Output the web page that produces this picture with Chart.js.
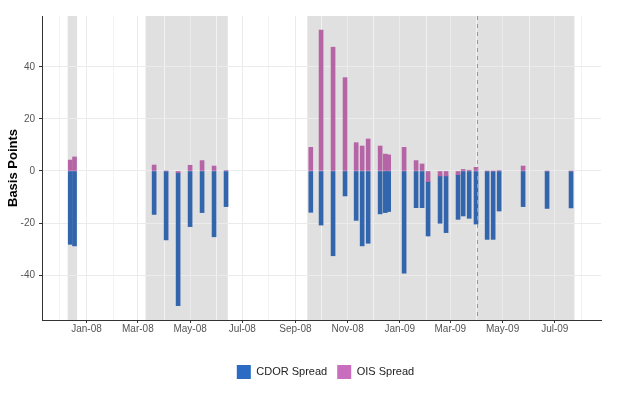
<!DOCTYPE html>
<html>
<head>
<meta charset="utf-8">
<script src="https://cdn.jsdelivr.net/npm/chart.js@4.4.1/dist/chart.umd.min.js"></script>
<style>
    html, body { margin: 0; padding: 0; background: #fff; }
    #wrap { width: 640px; height: 406px; }
</style>
</head>
<body>
<div id="wrap"><canvas id="spreadChart"></canvas></div>
<script>
// operation dates and spreads (basis points)
const dates = [
    "2007-12-13", "2007-12-18",
    "2008-03-20", "2008-04-03", "2008-04-17", "2008-05-01", "2008-05-15", "2008-05-29", "2008-06-12",
    "2008-09-19", "2008-10-01", "2008-10-15", "2008-10-29", "2008-11-11", "2008-11-18", "2008-11-25",
    "2008-12-09", "2008-12-15", "2008-12-19",
    "2009-01-06", "2009-01-20", "2009-01-27", "2009-02-03", "2009-02-17", "2009-02-24",
    "2009-03-10", "2009-03-16", "2009-03-23", "2009-03-31",
    "2009-04-13", "2009-04-20", "2009-04-27", "2009-05-25", "2009-06-22", "2009-07-20"
];
const cdorSpread = [
    -28.2, -28.8,
    -16.7, -26.5, -51.1, -21.4, -16.0, -25.3, -13.7,
    -15.9, -20.8, -32.6, -9.6, -19.0, -28.8, -27.8,
    -16.5, -16.0, -15.6,
    -39.3, -14.1, -14.1, -20.9, -18.2, -21.8,
    -17.2, -17.3, -18.2, -20.4,
    -26.3, -26.3, -15.4, -13.7, -14.4, -14.2
];
const oisSpread = [
    4.2, 5.4,
    2.3, 0, -0.7, 2.2, 4.0, 1.9, 0.2,
    9.1, 54.2, 47.6, 35.9, 10.9, 9.6, 12.3,
    9.6, 6.5, 6.2,
    9.1, 4.0, 2.7, -4.1, -1.9, -1.9,
    -1.4, 0.6, 0.3, 1.4,
    0, 0, 0.2, 1.9, 0, 0
];

// shaded periods and marker line
const shadeStarts = ["2007-12-10", "2008-03-10", "2008-09-15"];
const shadeEnds = ["2007-12-21", "2008-06-14", "2009-07-24"];
const markerDate = "2009-04-01";

const axisStart = "2007-11-10";
const axisEnd = "2009-08-24";
const yTicks = [-40, -20, 0, 20, 40];
const monthNames = ["Jan", "Feb", "Mar", "Apr", "May", "Jun", "Jul", "Aug", "Sep", "Oct", "Nov", "Dec"];

const legendColors = { "CDOR Spread": "#2b6bc3", "OIS Spread": "#c96ebf" };

function toTime(s) {
    return Date.parse(s);
}

function isLabelledMonth(value) {
    return new Date(value).getUTCMonth() % 2 === 0;
}

Chart.defaults.font.family = '"Liberation Sans", Arial, sans-serif';

const shadePlugin = {
    id: "shade",
    afterLayout(chart) {
        // legend in the original sits a little right of the canvas centre
        chart.legend.left += 25;
        chart.legend.right += 25;
    },
    beforeDraw(chart) {
        const { ctx, chartArea, scales } = chart;
        ctx.save();
        ctx.fillStyle = "#e0e0e0";
        shadeStarts.forEach((s, i) => {
            const x0 = scales.x.getPixelForValue(toTime(s));
            const x1 = scales.x.getPixelForValue(toTime(shadeEnds[i]));
            ctx.fillRect(x0, chartArea.top, x1 - x0, chartArea.bottom - chartArea.top);
        });
        ctx.restore();
    },
    afterDatasetsDraw(chart) {
        const { ctx, chartArea, scales } = chart;
        const x = Math.round(scales.x.getPixelForValue(toTime(markerDate))) + 0.5;
        ctx.save();
        ctx.strokeStyle = "#8c8ce6";
        ctx.lineWidth = 1;
        ctx.setLineDash([4, 4]);
        ctx.beginPath();
        ctx.moveTo(x, chartArea.top);
        ctx.lineTo(x, chartArea.bottom);
        ctx.stroke();
        ctx.restore();
    }
};

const ctx = document.getElementById("spreadChart").getContext("2d");

new Chart(ctx, {
    type: "bar",
    data: {
        datasets: [
            {
                label: "OIS Spread",
                data: dates.map((d, i) => ({ x: toTime(d), y: oisSpread[i] })),
                backgroundColor: "#b565a6",
                borderWidth: 0,
                barThickness: 4
            },
            {
                label: "CDOR Spread",
                data: dates.map((d, i) => ({ x: toTime(d), y: cdorSpread[i] })),
                backgroundColor: "#3365ad",
                borderWidth: 0,
                barThickness: 4
            }
        ]
    },
    options: {
        responsive: true,
        maintainAspectRatio: false,
        animation: false,
        layout: { padding: { left: 0, right: 39, top: 16, bottom: 17 } },
        plugins: {
            tooltip: { enabled: false },
            legend: {
                position: "bottom",
                labels: {
                    boxWidth: 14,
                    boxHeight: 14,
                    padding: 10,
                    color: "#222",
                    font: { size: 11 },
                    generateLabels(chart) {
                        const items = Chart.defaults.plugins.legend.labels.generateLabels(chart);
                        items.forEach((it) => {
                            it.fillStyle = legendColors[it.text];
                            it.strokeStyle = legendColors[it.text];
                            it.lineWidth = 0;
                        });
                        return items.reverse();
                    }
                }
            }
        },
        scales: {
            x: {
                type: "linear",
                stacked: true,
                offset: false,
                min: toTime(axisStart),
                max: toTime(axisEnd),
                afterBuildTicks(scale) {
                    const ticks = [];
                    const start = new Date(toTime(axisStart));
                    let y = start.getUTCFullYear();
                    let m = start.getUTCMonth() + 1;
                    while (Date.UTC(y, m, 1) <= toTime(axisEnd)) {
                        ticks.push({ value: Date.UTC(y, m, 1) });
                        m++;
                        if (m > 11) { m = 0; y++; }
                    }
                    scale.ticks = ticks;
                },
                afterFit(scale) {
                    scale.height = 35;
                },
                grid: {
                    offset: false,
                    color: (c) => (c.tick && isLabelledMonth(c.tick.value) ? "#ebebeb" : "#f2f2f2"),
                    tickColor: (c) => (c.tick && isLabelledMonth(c.tick.value) ? "#333" : "rgba(0,0,0,0)"),
                    tickLength: 3
                },
                border: { display: true, color: "#333", width: 1 },
                ticks: {
                    autoSkip: false,
                    maxRotation: 0,
                    padding: 0,
                    color: "#555",
                    font: { size: 10 },
                    callback(value) {
                        const d = new Date(value);
                        if (!isLabelledMonth(value)) return "";
                        return monthNames[d.getUTCMonth()] + "-" + String(d.getUTCFullYear()).slice(2);
                    }
                }
            },
            y: {
                stacked: true,
                min: -57.3,
                max: 59.6,
                afterBuildTicks(scale) {
                    scale.ticks = yTicks.map((v) => ({ value: v }));
                },
                afterFit(scale) {
                    scale.width = 42;
                },
                grid: { color: "#ebebeb", tickColor: "#333", tickLength: 3 },
                border: { display: true, color: "#333", width: 1 },
                ticks: { padding: 4, color: "#555", font: { size: 10 } },
                title: {
                    display: true,
                    text: "Basis Points",
                    color: "#000",
                    font: { size: 13, weight: "bold" },
                    padding: { top: 6, bottom: 0 }
                }
            }
        }
    },
    plugins: [shadePlugin]
});
</script>
</body>
</html>
